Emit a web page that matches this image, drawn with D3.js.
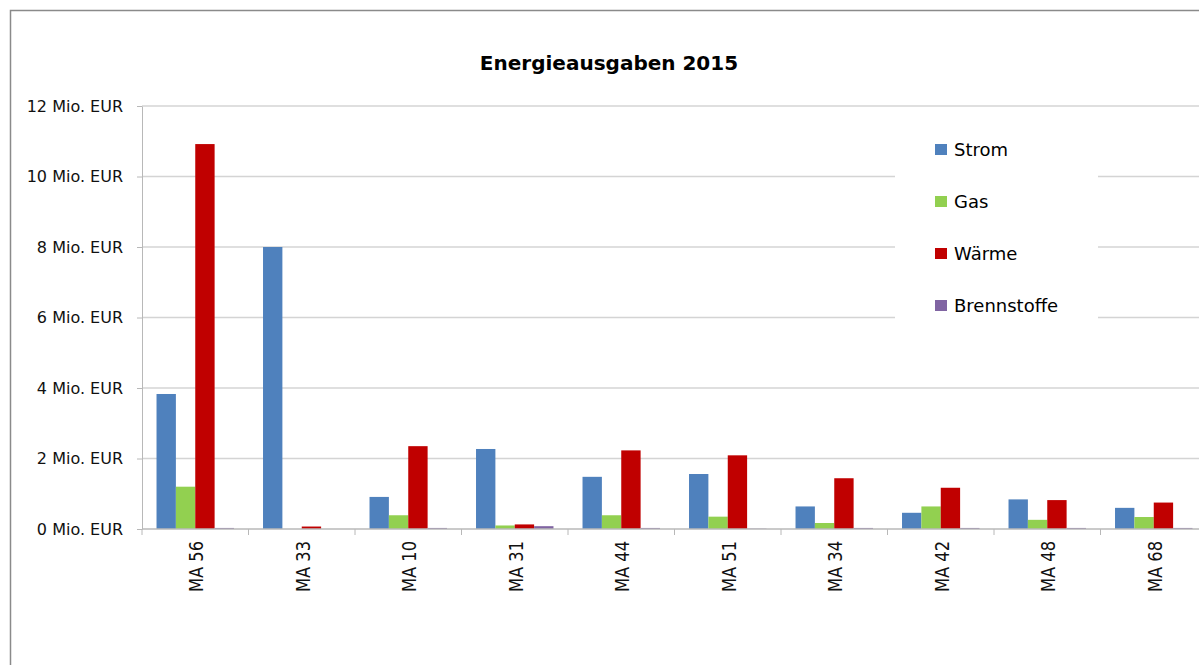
<!DOCTYPE html>
<html>
<head>
<meta charset="utf-8">
<script src="https://cdn.jsdelivr.net/npm/d3@7"></script>
<style>
  body { margin: 0; background: #fff; }
  svg { display: block; font-family: "DejaVu Sans", sans-serif; }
  .grid line { stroke: #d4d4d4; stroke-width: 1.6; }
  .axis path, .axis line { stroke: #b8b8b8; }
  .axis text { fill: #111; font-family: "DejaVu Sans", sans-serif; }
</style>
</head>
<body>
<div id="chart"></div>
<script>
var categories = ["MA 56", "MA 33", "MA 10", "MA 31", "MA 44", "MA 51", "MA 34", "MA 42", "MA 48", "MA 68"]
var seriesNames = ["Strom", "Gas", "Wärme", "Brennstoffe"]
var colors = ["#4f81bd", "#92d050", "#c00000", "#8064a2"]

// Mio. EUR
var strom       = [3.83, 8.00, 0.91, 2.27, 1.48, 1.56, 0.64, 0.46, 0.84, 0.60]
var gas         = [1.20, 0.00, 0.39, 0.10, 0.39, 0.35, 0.17, 0.64, 0.26, 0.34]
var waerme      = [10.92, 0.07, 2.35, 0.13, 2.23, 2.09, 1.44, 1.17, 0.82, 0.75]
var brennstoffe = [0.03, 0.00, 0.03, 0.08, 0.03, 0.01, 0.03, 0.03, 0.03, 0.03]

var yTicks = [0, 2, 4, 6, 8, 10, 12]

var width = 1199, height = 665
var margin = {top: 106, left: 142, bottom: 136}
var plotW = 1065

var svg = d3.select('#chart').append('svg')
    .attr('width', width)
    .attr('height', height)

// outer chart frame (runs off the right/bottom edge like the source)
svg.append('rect')
    .attr('x', 10.5).attr('y', 10.5)
    .attr('width', 1300).attr('height', 800)
    .attr('fill', 'none')
    .attr('stroke', '#8a8a8a')
    .attr('stroke-width', 1.5)

var data = categories.map(function(c, i) {
  return {cat: c, values: [strom[i], gas[i], waerme[i], brennstoffe[i]]}
})

var x0 = d3.scaleBand().domain(categories).range([margin.left, margin.left + plotW])
var x1 = d3.scaleBand().domain(seriesNames).range([0, x0.bandwidth()]).paddingOuter(0.75)
var y = d3.scaleLinear().domain([0, 12]).range([height - margin.bottom, margin.top])

// gridlines
svg.append('g').attr('class', 'grid')
  .selectAll('line').data(yTicks.slice(1)).enter().append('line')
    .attr('x1', margin.left).attr('x2', margin.left + plotW)
    .attr('y1', function(d) { return y(d) }).attr('y2', function(d) { return y(d) })

// y axis
var yAxis = d3.axisLeft(y).tickValues(yTicks).tickSize(5).tickSizeOuter(0)
    .tickFormat(function(d) { return d + ' Mio. EUR' })
svg.append('g').attr('class', 'axis')
    .attr('transform', 'translate(' + margin.left + ',0)')
    .call(yAxis)
    .selectAll('text')
    .attr('x', -19)
    .style('font-size', '16px')

// bars
var groups = svg.append('g').selectAll('g').data(data).enter().append('g')
    .attr('transform', function(d) { return 'translate(' + x0(d.cat) + ',0)' })

groups.selectAll('rect').data(function(d) { return d.values }).enter().append('rect')
    .attr('x', function(d, i) { return x1(seriesNames[i]) })
    .attr('width', x1.bandwidth())
    .attr('y', function(d) { return y(d) })
    .attr('height', function(d) { return y(0) - y(d) })
    .attr('fill', function(d, i) { return colors[i] })

// x axis: line, boundary ticks, rotated labels
var xg = svg.append('g').attr('class', 'axis')
xg.append('line')
    .attr('x1', margin.left).attr('x2', margin.left + plotW)
    .attr('y1', y(0)).attr('y2', y(0))
    .attr('stroke-width', 1.5)
xg.selectAll('.tick').data(categories).enter().append('line')
    .attr('x1', function(d) { return x0(d) }).attr('x2', function(d) { return x0(d) })
    .attr('y1', y(0)).attr('y2', y(0) + 6)
xg.selectAll('text').data(categories).enter().append('text')
    .attr('transform', function(d) {
      return 'translate(' + (x0(d) + x0.bandwidth() / 2 + 8) + ',' + (y(0) + 12) + ') rotate(-90) scale(1,1.22)'
    })
    .attr('text-anchor', 'end')
    .style('font-size', '16.3px')
    .text(function(d) { return d })

// title
svg.append('text')
    .attr('x', 609).attr('y', 70)
    .attr('text-anchor', 'middle')
    .style('font-size', '20px')
    .style('font-weight', 'bold')
    .text('Energieausgaben 2015')

// legend
var legend = svg.append('g')
legend.append('rect')
    .attr('x', 895).attr('y', 122)
    .attr('width', 203).attr('height', 215)
    .attr('fill', '#fff')
var items = legend.selectAll('g').data(seriesNames).enter().append('g')
    .attr('transform', function(d, i) { return 'translate(935,' + (149 + i * 52) + ')' })
items.append('rect')
    .attr('x', 0).attr('y', -5)
    .attr('width', 12).attr('height', 11)
    .attr('fill', function(d, i) { return colors[i] })
items.append('text')
    .attr('x', 19).attr('y', 7)
    .style('font-size', '18px')
    .text(function(d) { return d })
</script>
</body>
</html>
